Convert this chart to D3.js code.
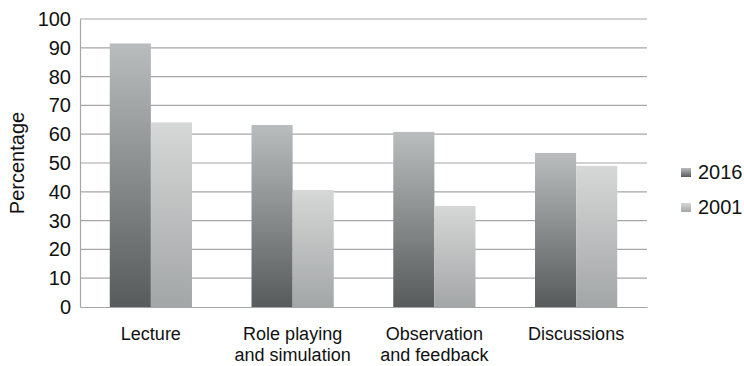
<!DOCTYPE html>
<html>
<head>
<meta charset="utf-8">
<script src="https://cdn.jsdelivr.net/npm/d3@7"></script>
<style>
  body { margin: 0; background: #fff; }
  svg text { font-family: "Liberation Sans", Arial, sans-serif; fill: #111; }
</style>
</head>
<body>
<div id="chart"></div>
<script>
// Data
const categories = [["Lecture"], ["Role playing", "and simulation"], ["Observation", "and feedback"], ["Discussions"]];
const seriesNames = ["2016", "2001"];
const values2016 = [91.5, 63.2, 60.8, 53.5];
const values2001 = [64.1, 40.6, 35.1, 49.0];
const yTicks = [0, 10, 20, 30, 40, 50, 60, 70, 80, 90, 100];

const W = 744, H = 366;
const margin = { top: 19, right: 97, bottom: 59, left: 80 };
const width = W - margin.left - margin.right;
const height = H - margin.top - margin.bottom;

const svg = d3.select("#chart").append("svg")
    .attr("width", W)
    .attr("height", H);

// gradients for bars
const defs = svg.append("defs");
const grads = [
    { id: "g2016", top: "#babdbd", bottom: "#575b5c" },
    { id: "g2001", top: "#d6d8d7", bottom: "#a3a6a7" }
];
grads.forEach(g => {
    let lg = defs.append("linearGradient").attr("id", g.id)
        .attr("x1", 0).attr("y1", 0).attr("x2", 0).attr("y2", 1);
    lg.append("stop").attr("offset", "0%").attr("stop-color", g.top);
    lg.append("stop").attr("offset", "100%").attr("stop-color", g.bottom);
});

const g = svg.append("g").attr("transform", `translate(${margin.left},${margin.top})`);

const catKeys = categories.map(d => d.join(" "));
const x0 = d3.scaleBand().domain(catKeys).range([0, width]).paddingInner(0.42).paddingOuter(0.21);
const x1 = d3.scaleBand().domain(seriesNames).range([0, x0.bandwidth()]);
const y = d3.scaleLinear().domain([0, 100]).range([height, 0]);

// gridlines
g.selectAll(".grid").data(yTicks.filter(t => t > 0)).enter()
    .append("line")
    .attr("x1", 0).attr("x2", width)
    .attr("y1", d => y(d)).attr("y2", d => y(d))
    .attr("stroke", "#a6a6a6").attr("stroke-width", 1.2);

// bars
const rows = catKeys.map((c, i) => ({ cat: c, vals: [values2016[i], values2001[i]] }));
const grp = g.selectAll(".grp").data(rows).enter().append("g")
    .attr("transform", d => `translate(${x0(d.cat)},0)`);
grp.selectAll("rect").data(d => d.vals.map((v, j) => ({ s: seriesNames[j], v: v }))).enter()
    .append("rect")
    .attr("x", d => x1(d.s))
    .attr("y", d => y(d.v))
    .attr("width", x1.bandwidth())
    .attr("height", d => height - y(d.v))
    .attr("fill", d => d.s === "2016" ? "url(#g2016)" : "url(#g2001)");

// y axis
const yAxis = g.append("g")
    .call(d3.axisLeft(y).tickValues(yTicks).tickSize(0).tickPadding(9));
yAxis.select(".domain").attr("stroke", "#a6a6a6").attr("stroke-width", 1.2);
yAxis.selectAll("text").style("font-size", "20px").attr("fill", "#111");

// x axis
const xAxis = g.append("g").attr("transform", `translate(0,${height})`)
    .call(d3.axisBottom(x0).tickSize(0).tickFormat(""));
xAxis.select(".domain").attr("stroke", "#a6a6a6").attr("stroke-width", 1.2);

// x labels (one text per line)
categories.forEach((lines, i) => {
    lines.forEach((line, j) => {
        g.append("text")
            .attr("text-anchor", "middle")
            .attr("x", x0(catKeys[i]) + x0.bandwidth() / 2)
            .attr("y", height + 33 + j * 20.5)
            .style("font-size", "18px")
            .text(line);
    });
});

// y label
svg.append("text")
    .attr("transform", `translate(24,${margin.top + height / 2}) rotate(-90)`)
    .attr("text-anchor", "middle")
    .style("font-size", "20px")
    .text("Percentage");

// legend
const legend = svg.append("g").attr("transform", "translate(681,0)");
seriesNames.forEach((s, i) => {
    let ly = 172 + i * 35;
    legend.append("rect")
        .attr("x", 0).attr("y", ly - 4)
        .attr("width", 10).attr("height", 9)
        .attr("fill", i === 0 ? "url(#g2016)" : "url(#g2001)");
    legend.append("text")
        .attr("x", 17).attr("y", ly + 7)
        .style("font-size", "20px")
        .text(s);
});
</script>
</body>
</html>
